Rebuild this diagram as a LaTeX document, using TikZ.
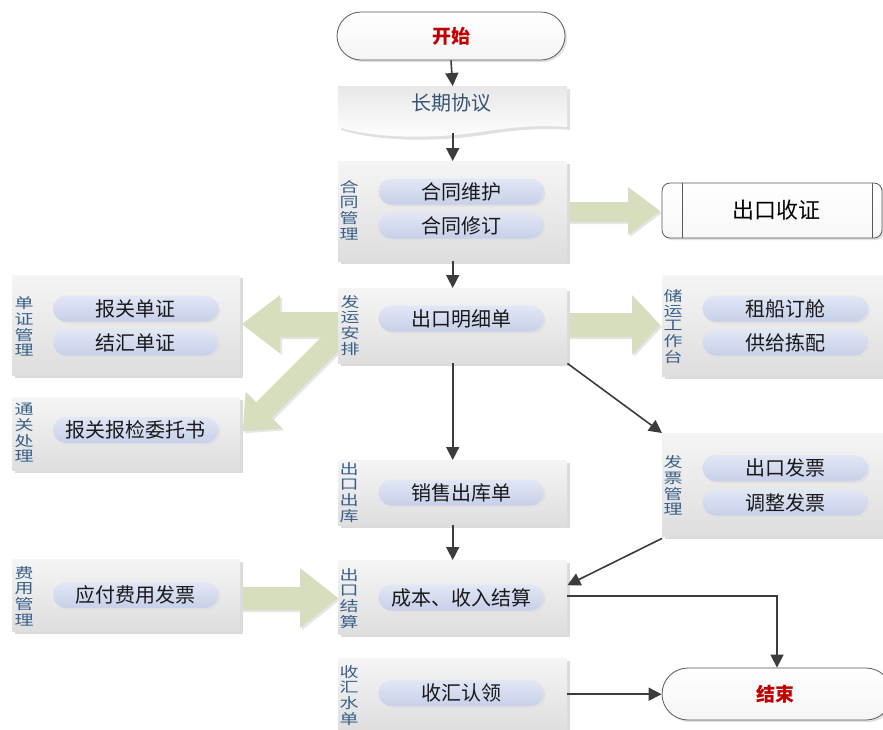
\documentclass[tikz,border=0pt]{standalone}
\usepackage{fontspec}
\usepackage{graphicx}
\setmainfont{Noto Sans CJK SC}
\usetikzlibrary{shadows,arrows.meta,calc}
\definecolor{lblue}{RGB}{58,96,138}
\definecolor{arrgreen}{RGB}{214,222,190}
\definecolor{pilltop}{RGB}{226,231,245}
\definecolor{pillbot}{RGB}{199,208,233}
\definecolor{flowgray}{RGB}{60,60,60}
\definecolor{startred}{RGB}{192,0,0}
\definecolor{doctext}{RGB}{55,85,118}
\newcommand\vlab[1]{\scalebox{1}[0.75]{\fontsize{19}{18}\selectfont\begin{tabular}{@{}c@{}}#1\end{tabular}}}
\tikzset{
  panel/.style={anchor=north west, inner sep=0pt, draw=none,
    top color=black!4, bottom color=black!13,
    drop shadow={shadow xshift=3pt, shadow yshift=-3pt, fill=black!14, opacity=1}},
  pill/.style={rounded corners=13pt, minimum width=165pt, minimum height=26pt, inner sep=0pt,
    top color=pilltop, bottom color=pillbot, draw=none, text=black!90,
    font=\fontsize{20}{22}\selectfont,
    drop shadow={shadow xshift=2pt, shadow yshift=-2pt, fill=black!12, opacity=1}},
  vlabel/.style={inner sep=0pt, text=lblue},
  term/.style={rounded corners=24pt, draw=black!65, line width=0.8pt, top color=white, bottom color=black!4,
    inner sep=0pt, text=startred, font=\fontsize{19}{21}\selectfont\bfseries,
    drop shadow={shadow xshift=2pt, shadow yshift=-2pt, fill=black!12, opacity=1}},
  garrow/.style={fill=arrgreen, drop shadow={shadow xshift=2pt, shadow yshift=-2pt, fill=black!10, opacity=1}},
  flow/.style={draw=flowgray, line width=1.6pt, -{Triangle[length=13pt,width=13pt]}},
}
\begin{document}
\begin{tikzpicture}[x=1pt,y=-1pt]
\useasboundingbox (0,0) rectangle (883,729);

% green block arrows
\path[garrow] (567,202) -- (628,202) -- (628,187) -- (660,211) -- (628,235) -- (628,222) -- (567,222) -- cycle;
\path[garrow] (567,313) -- (632,313) -- (632,295) -- (660,325) -- (632,355) -- (632,337) -- (567,337) -- cycle;
\path[garrow] (338,312) -- (280,312) -- (280,295) -- (242,324) -- (280,353) -- (280,337) -- (338,337) -- cycle;
\path[garrow] (352.8,336.8) -- (271.8,417.8) -- (282.4,428.4) -- (242.8,431.2) -- (245.6,391.6) -- (256.2,402.2) -- (337.2,321.2) -- cycle;
\path[garrow] (240,587) -- (300,587) -- (300,568) -- (338,598) -- (300,628) -- (300,610) -- (240,610) -- cycle;

% start terminator
\node[term, minimum width=228pt, minimum height=48pt] (start) at (451,36) {开始};

% document shape
\node[anchor=north west, minimum width=229pt, minimum height=47pt, inner sep=0pt] (doc) at (338,86) {};
\fill[black!12] (341,89) -- (570,89) -- (570,130) .. controls (545,128) and (520,129) .. (483,135) .. controls (443,141) and (383,143) .. (341,130) -- cycle;
\shade[top color=black!9, bottom color=white] (338,86) -- (567,86) -- (567,127) .. controls (545,125) and (520,126) .. (480,132) .. controls (440,138) and (380,140) .. (338,127) -- cycle;
\node[text=doctext, font=\fontsize{20}{22}\selectfont] at (451,103) {长期协议};

% panels
\node[panel, minimum width=229pt, minimum height=100pt] (pht) at (338,161) {};
\node[panel, minimum width=229pt, minimum height=75pt]  (pfy) at (338,288) {};
\node[panel, minimum width=228pt, minimum height=100pt] (pdz) at (12,275) {};
\node[panel, minimum width=228pt, minimum height=73pt]  (ptg) at (12,397) {};
\node[panel, minimum width=226pt, minimum height=101pt] (pcy) at (662,275) {};
\node[panel, minimum width=226pt, minimum height=103pt] (pfp) at (662,433) {};
\node[panel, minimum width=229pt, minimum height=65pt]  (pck) at (338,460) {};
\node[panel, minimum width=229pt, minimum height=74pt]  (pjs) at (338,560) {};
\node[panel, minimum width=228pt, minimum height=72pt]  (pfe) at (12,559) {};
\node[panel, minimum width=229pt, minimum height=74pt]  (psh) at (338,658) {};

% vertical labels
\node[vlabel] (lht) at (349,212) {\vlab{合\\同\\管\\理}};
\node[vlabel] (lfy) at (350,327) {\vlab{发\\运\\安\\排}};
\node[vlabel] (ldz) at (24,328) {\vlab{单\\证\\管\\理}};
\node[vlabel] (ltg) at (24,434) {\vlab{通\\关\\处\\理}};
\node[vlabel] (lcy) at (673,328) {\vlab{储\\运\\工\\作\\台}};
\node[vlabel] (lfp) at (673,487) {\vlab{发\\票\\管\\理}};
\node[vlabel] (lck) at (349,494) {\vlab{出\\口\\出\\库}};
\node[vlabel] (ljs) at (349,600) {\vlab{出\\口\\结\\算}};
\node[vlabel] (lfe) at (24,598) {\vlab{费\\用\\管\\理}};
\node[vlabel] (lsh) at (349,697) {\vlab{收\\汇\\水\\单}};

% pills
\node[pill] (a1) at (461,191.5) {合同维护};
\node[pill] (a2) at (461,225.5) {合同修订};
\node[pill] (b1) at (461,318.5) {出口明细单};
\node[pill] (c1) at (135.5,308.5) {报关单证};
\node[pill] (c2) at (135.5,342.5) {结汇单证};
\node[pill] (d1) at (135.5,430) {报关报检委托书};
\node[pill] (e1) at (785,308.5) {租船订舱};
\node[pill] (e2) at (785,342.5) {供给拣配};
\node[pill] (f1) at (785,468) {出口发票};
\node[pill] (f2) at (785,502.5) {调整发票};
\node[pill] (g1) at (461,492.5) {销售出库单};
\node[pill] (h1) at (461,597.5) {成本、收入结算};
\node[pill] (i1) at (135.5,595) {应付费用发票};
\node[pill] (j1) at (461,693) {收汇认领};

% 出口收证 (predefined process)
\node[rounded corners=8pt, draw=black!65, line width=0.8pt, top color=white, bottom color=black!3,
      minimum width=220pt, minimum height=55pt, inner sep=0pt,
      drop shadow={shadow xshift=2pt, shadow yshift=-2pt, fill=black!12, opacity=1}] (sz) at (772,210.5) {};
\draw[black!65, line width=0.8pt] ([xshift=21pt]sz.north west) -- ([xshift=21pt]sz.south west);
\draw[black!65, line width=0.8pt] ([xshift=-10pt]sz.north east) -- ([xshift=-10pt]sz.south east);
\node[font=\fontsize{22}{24}\selectfont, text=black] (szt) at (776,210.5) {出口收证};

% end terminator
\node[term, minimum width=230pt, minimum height=52pt, rounded corners=26pt] (end) at (777,694) {};
\node[text=startred, font=\fontsize{19}{21}\selectfont\bfseries] (endt) at (775,694) {结束};

% connectors
\draw[flow] (start.south) -- (doc.north);
\draw[flow] (doc.south) -- (pht.north);
\draw[flow] (pht.south) -- (pfy.north);
\draw[flow] (pfy.south) -- (pck.north);
\draw[flow] (pfy.south east) -- (pfp.north west);
\draw[flow] (pck.south) -- (pjs.north);
\draw[flow] ([yshift=-2pt]pfp.south west) -- ([yshift=12pt]pjs.east);
\draw[flow] ([yshift=1pt]pjs.east) -| (end.north);
\draw[flow] ([yshift=1pt]psh.east) -- ([yshift=1pt]psh.east -| end.west);
\end{tikzpicture}
\end{document}
